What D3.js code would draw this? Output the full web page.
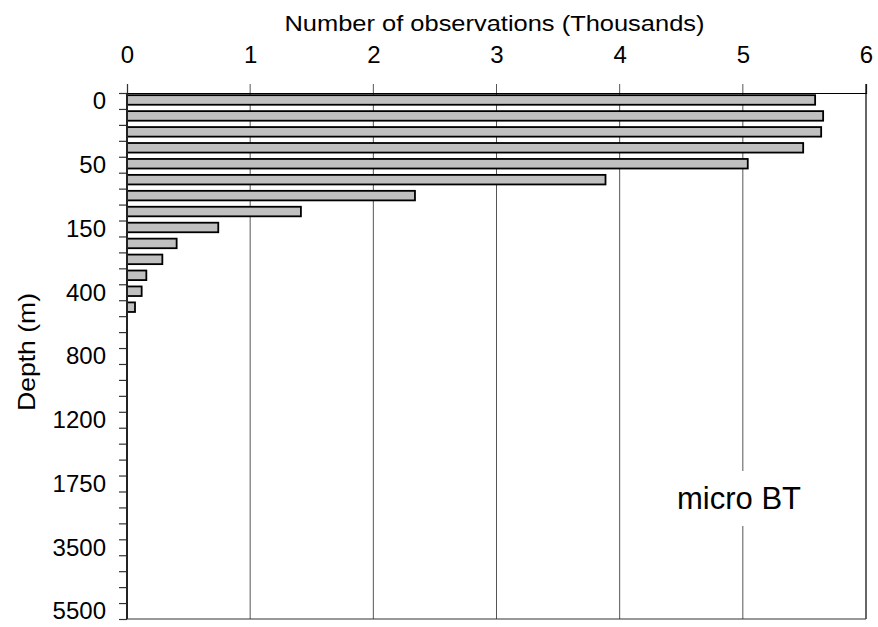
<!DOCTYPE html>
<html>
<head>
<meta charset="utf-8">
<script src="https://cdn.jsdelivr.net/npm/d3@7"></script>
<style>
  html, body { margin: 0; padding: 0; background: #fff; }
  text { font-family: "Liberation Sans", Arial, sans-serif; fill: #000; }
</style>
</head>
<body>
<svg id="chart" width="878" height="627"></svg>
<script>
// Standard depth levels (m)
const depths = [0,10,20,30,50,75,100,125,150,200,250,300,400,500,600,700,800,900,1000,1100,1200,1300,1400,1500,1750,2000,2500,3000,3500,4000,4500,5000,5500];
// Number of observations (thousands) per depth level (only first levels have data)
const counts = [5.587, 5.652, 5.636, 5.49, 5.04, 3.885, 2.338, 1.412, 0.741, 0.403, 0.287, 0.157, 0.119, 0.065];
const yTickLabels = ["0","50","150","400","800","1200","1750","3500","5500"];
const xTicks = [0,1,2,3,4,5,6];
const xTitle = "Number of observations (Thousands)";
const yTitle = "Depth (m)";
const panelLabel = "micro BT";

const svg = d3.select("#chart");
const mLeft = 127, mRight = 866, mTop = 93, mBottom = 619;

const x = d3.scaleLinear().domain([0, 6]).range([mLeft, mRight]);
const y = d3.scaleBand().domain(depths).range([mTop, mBottom]).paddingInner(0.4).paddingOuter(0.2);
const yIdx = d3.scaleLinear().domain([0, depths.length]).range([mTop, mBottom]);

// vertical grid lines with ticks above top
svg.append("g").selectAll("line").data(xTicks.filter(d => d > 0 && d < 6)).join("line")
  .attr("x1", d => x(d)).attr("x2", d => x(d))
  .attr("y1", mTop - 9).attr("y2", mBottom)
  .attr("stroke", "#555").attr("stroke-width", 1);

// label box (white) for panel label
const lbx = 739, lby = 509;
svg.append("rect").attr("x", lbx - 75).attr("y", 471).attr("width", 150).attr("height", 55).attr("fill", "#fff");
svg.append("text").attr("x", lbx).attr("y", lby).attr("text-anchor", "middle")
  .style("font-size", "31px").text(panelLabel);

// top axis (x)
const xAxis = d3.axisTop(x).tickValues(xTicks).tickSize(9).tickPadding(8).tickFormat(d3.format("d"));
const gx = svg.append("g").attr("transform", `translate(0,${mTop})`).call(xAxis);
gx.select(".domain").attr("stroke", "#000").attr("stroke-width", 1.2);
gx.selectAll(".tick line").attr("stroke", "#333");
gx.selectAll(".tick text").style("font-size", "24px").attr("fill", "#000").attr("dy", 0).attr("y", -30);
gx.selectAll(".tick").filter(d => d > 0 && d < 6).select("line").remove();

// right and bottom border
svg.append("line").attr("x1", mRight).attr("x2", mRight).attr("y1", mTop - 9).attr("y2", mBottom)
  .attr("stroke", "#000").attr("stroke-width", 1.2);
svg.append("line").attr("x1", mLeft).attr("x2", mRight).attr("y1", mBottom).attr("y2", mBottom)
  .attr("stroke", "#333").attr("stroke-width", 1.2);

// bars
svg.append("g").selectAll("rect").data(counts).join("rect")
  .attr("x", x(0))
  .attr("y", (d, i) => y(depths[i]) - 1)
  .attr("width", d => x(d) - x(0))
  .attr("height", y.bandwidth())
  .attr("fill", "#c0c0c0").attr("stroke", "#000").attr("stroke-width", 1.8);

// left axis ticks at slot boundaries
const yTickAxis = d3.axisLeft(yIdx).tickValues(d3.range(depths.length + 1)).tickSize(8).tickFormat("");
const gy = svg.append("g").attr("transform", `translate(${mLeft},0)`).call(yTickAxis);
gy.select(".domain").remove();
gy.selectAll(".tick line").attr("stroke", "#333").attr("stroke-width", 1.2);
svg.append("line").attr("x1", mLeft).attr("x2", mLeft).attr("y1", mTop).attr("y2", mBottom)
  .attr("stroke", "#222").attr("stroke-width", 2);

// left axis labels at band centres
const yLabAxis = d3.axisLeft(y).tickValues(depths.filter(d => yTickLabels.includes(String(d))))
  .tickSize(0).tickPadding(21).tickFormat(d => String(d));
const gyl = svg.append("g").attr("transform", `translate(${mLeft},0)`).call(yLabAxis);
gyl.select(".domain").remove();
gyl.selectAll(".tick text").style("font-size", "24px").attr("fill", "#000").attr("dy", "0.35em");
gyl.selectAll(".tick").attr("transform", d => `translate(0,${yIdx(depths.indexOf(d) + 0.5)})`);

// titles
svg.append("text").attr("x", (mLeft + mRight) / 2 - 2).attr("y", 31).attr("text-anchor", "middle")
  .style("font-size", "22.5px").attr("textLength", 420).attr("lengthAdjust", "spacingAndGlyphs").text(xTitle);
svg.append("text").attr("transform", "translate(35,352) rotate(-90)").attr("text-anchor", "middle")
  .style("font-size", "24px").attr("textLength", 118).attr("lengthAdjust", "spacingAndGlyphs").text(yTitle);
</script>
</body>
</html>
